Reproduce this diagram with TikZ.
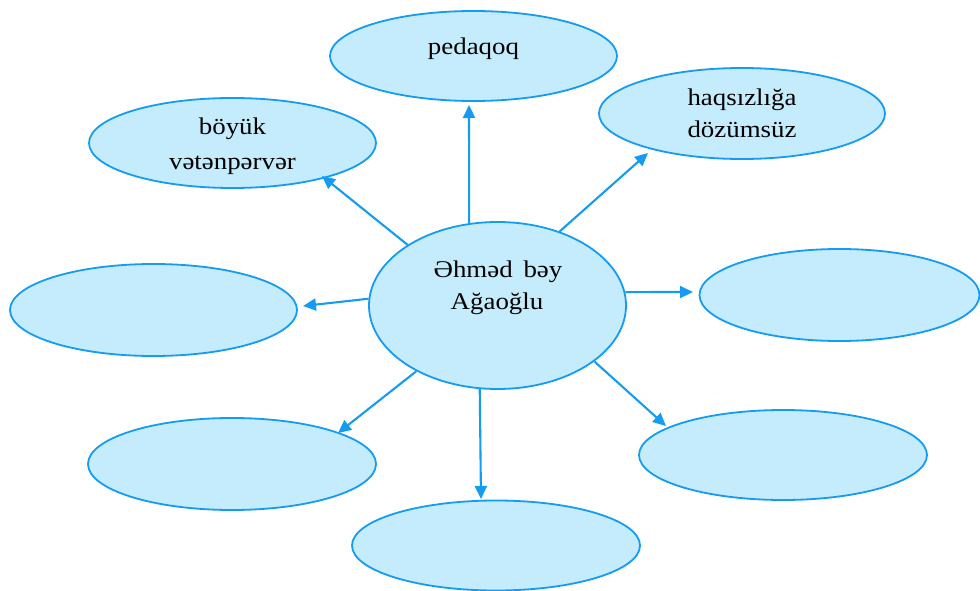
\documentclass[tikz,border=0pt]{standalone}
\usepackage{fontspec}
\setmainfont{Liberation Serif}[FakeStretch=1.12]
\usetikzlibrary{shapes.geometric,arrows.meta}
\definecolor{bubblefill}{HTML}{C4ECFD}
\definecolor{bubbleline}{HTML}{159CF2}
\tikzset{
  bubble/.style={ellipse, draw=bubbleline, fill=bubblefill, line width=1.8pt, inner sep=0pt},
  lbl/.style={anchor=base, inner sep=0pt, font=\fontsize{24}{33}\selectfont, text=black},
  arr/.style={draw=bubbleline, line width=2.1pt, -{Triangle[length=13pt,width=12pt]}}
}
\begin{document}
\begin{tikzpicture}[x=1pt,y=-1pt]
\useasboundingbox (0,0) rectangle (980,591);
% ellipses
\node[bubble, minimum width=287pt, minimum height=90pt] (p)  at (473.5,56) {};
\node[bubble, minimum width=287pt, minimum height=90pt] (b)  at (232.5,143) {};
\node[bubble, minimum width=286pt, minimum height=91pt] (h)  at (742,113.5) {};
\node[bubble, minimum width=280pt, minimum height=92pt] (r)  at (839.5,295) {};
\node[bubble, minimum width=287pt, minimum height=92pt] (l)  at (153.5,310) {};
\node[bubble, minimum width=288pt, minimum height=92pt] (ll) at (232,464) {};
\node[bubble, minimum width=288pt, minimum height=90pt] (lr) at (783,455) {};
\node[bubble, minimum width=288pt, minimum height=90pt] (bt) at (496,545.5) {};
\node[bubble, minimum width=257pt, minimum height=167pt] (c)  at (497.5,305.5) {};
% texts
\node[lbl] (tp)  at (473.5,55) {pedaqoq};
\node[lbl] (tb1) at (232.5,135) {böyük};
\node[lbl] (tb2) at (232.5,169) {vətənpərvər};
\node[lbl] (th1) at (742,106) {haqsızlığa};
\node[lbl] (th2) at (742,138) {dözümsüz};
\node[lbl] (tc1) at (498,277) {Əhməd\hspace{0.45em}bəy};
\node[lbl] (tc2) at (497,309) {Ağaoğlu};
% arrow tips
\coordinate (ep)  at (469,105);
\coordinate (eb)  at (322,176);
\coordinate (eh)  at (648,153);
\coordinate (er)  at (693,292);
\coordinate (el)  at (303,306);
\coordinate (ell) at (338,433);
\coordinate (ebt) at (481,499);
\coordinate (elr) at (666,426);
% arrows
\draw[arr] (c.109.7) -- (ep);
\draw[arr] (c.146.5) -- (eb);
\draw[arr] (c.50.5) -- (eh);
\draw[arr] (c.6) -- (er);
\draw[arr] (c.177.5) -- (el);
\draw[arr] (c.219.1) -- (ell);
\draw[arr] (c.258) -- (ebt);
\draw[arr] (c.-30.9) -- (elr);
\end{tikzpicture}
\end{document}
